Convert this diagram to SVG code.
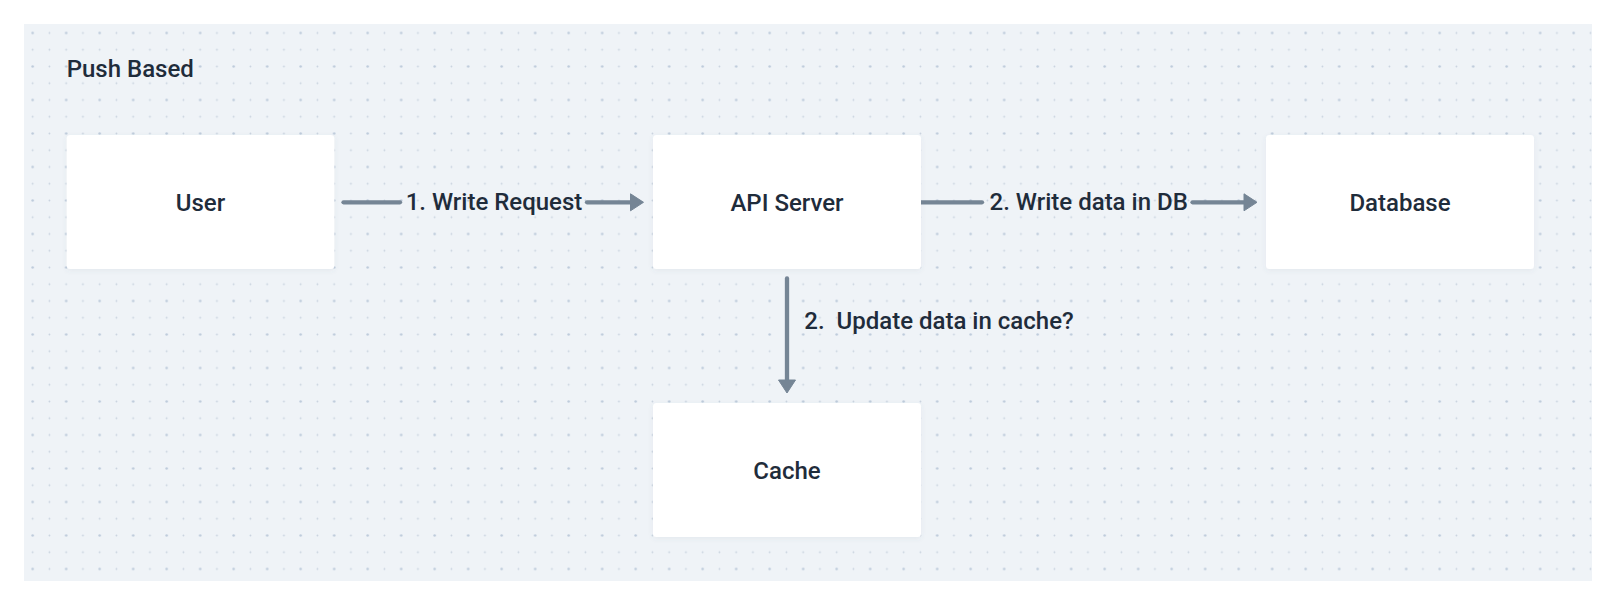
<svg xmlns="http://www.w3.org/2000/svg" width="1609" height="599" viewBox="0 0 1609 599">
  <defs>
    <pattern id="dots" patternUnits="userSpaceOnUse" x="24.3" y="24.6" width="33.5" height="33.5">
      <circle cx="8.375" cy="8.375" r="1.25" fill="#bccada"/>
      <circle cx="25.125" cy="8.375" r="0.9" fill="#c8d2de"/>
      <circle cx="8.375" cy="25.125" r="0.9" fill="#c8d2de"/>
      <circle cx="25.125" cy="25.125" r="0.9" fill="#c8d2de"/>
    </pattern>
    <filter id="shadow" x="-10%" y="-10%" width="120%" height="130%">
      <feDropShadow dx="0" dy="1.5" stdDeviation="2.5" flood-color="#5a6b80" flood-opacity="0.08"/>
    </filter>
    <marker id="arrow" markerUnits="userSpaceOnUse" markerWidth="16" markerHeight="20" refX="0" refY="9" orient="auto" overflow="visible">
      <path d="M0,0.5 L13,9 L0,17.5 Z" fill="#758595" stroke="#758595" stroke-width="1" stroke-linejoin="round"/>
    </marker>
    <style>
      .lbl { font-family: Roboto, "Liberation Sans", sans-serif; font-size: 24px; font-weight: 500; fill: #1f2c3b; }
      .mid { text-anchor: middle; }
      .box { fill: #ffffff; filter: url(#shadow); }
      .conn { stroke: #758595; stroke-width: 4.3; stroke-linecap: round; fill: none; }
    </style>
  </defs>

  <rect x="0" y="0" width="1609" height="599" fill="#ffffff"/>
  <g id="canvas">
    <rect x="24" y="24" width="1568" height="557" fill="#eff3f7"/>
    <rect x="24" y="24" width="1568" height="557" fill="url(#dots)"/>
    <text class="lbl" x="66.7" y="77.3">Push Based</text>
  </g>

  <g id="connectors">
    <line class="conn" x1="343.5" y1="202.3" x2="400" y2="202.3"/>
    <line class="conn" x1="587" y1="202.3" x2="630.5" y2="202.3" marker-end="url(#arrow)"/>
    <text class="lbl mid" x="494" y="210.3">1. Write Request</text>

    <line class="conn" x1="919" y1="202.3" x2="982" y2="202.3"/>
    <line class="conn" x1="1192.5" y1="202.3" x2="1244" y2="202.3" marker-end="url(#arrow)"/>
    <text class="lbl mid" x="1088.7" y="210.3">2. Write data in DB</text>

    <line class="conn" x1="787" y1="278.5" x2="787" y2="380" marker-end="url(#arrow)"/>
    <text class="lbl" x="804.3" y="329" style="white-space:pre" xml:space="preserve">2.  Update data in cache?</text>
  </g>

  <g id="user">
    <rect class="box" x="66.7" y="135" width="267.6" height="134" rx="3.5"/>
    <text class="lbl mid" x="200.5" y="210.5">User</text>
  </g>
  <g id="api-server">
    <rect class="box" x="653" y="135" width="268" height="134" rx="3.5"/>
    <text class="lbl mid" x="787" y="210.5">API Server</text>
  </g>
  <g id="database">
    <rect class="box" x="1266" y="135" width="268" height="134" rx="3.5"/>
    <text class="lbl mid" x="1400" y="210.5">Database</text>
  </g>
  <g id="cache">
    <rect class="box" x="653" y="403" width="268" height="134" rx="3.5"/>
    <text class="lbl mid" x="787" y="478.5">Cache</text>
  </g>
</svg>
